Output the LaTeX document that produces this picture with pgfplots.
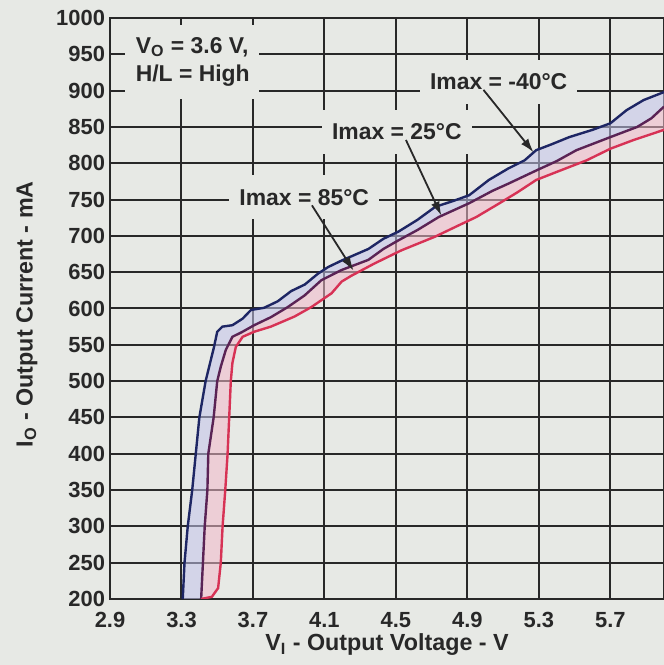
\documentclass[border=0pt]{standalone}
\usepackage{pgfplots}
\pgfplotsset{compat=1.18}
\usetikzlibrary{arrows.meta}
\usepackage{fontspec}
\setmainfont{Liberation Sans}
\definecolor{bg}{RGB}{231,233,229}
\definecolor{cblue}{RGB}{30,38,100}
\definecolor{cpurple}{RGB}{90,35,85}
\definecolor{cred}{RGB}{215,50,85}
\definecolor{flav}{RGB}{195,195,235}
\definecolor{fpink}{RGB}{242,185,202}
\definecolor{gridc}{RGB}{40,40,40}
\begin{document}
\begin{tikzpicture}[font=\fontsize{11.5}{13}\selectfont\bfseries]
\fill[bg] (-55bp,-33bp) rectangle (277bp,299.5bp);
\begin{axis}[
  at={(0,0)}, anchor=south west,
  scale only axis, width=277bp, height=290.5bp,
  xmin=2.9, xmax=6.0, ymin=200, ymax=1000,
  xtick={2.9,3.3,3.7,4.1,4.5,4.9,5.3,5.7},
  xticklabels={2.9,3.3,3.7,4.1,4.5,4.9,5.3,5.7},
  ytick={200,250,...,1000},
  /pgf/number format/1000 sep={},
  /pgf/number format/assume math mode=true,
  grid=major, major grid style={gridc, line width=1bp},
  axis line style={gridc, line width=1bp},
  major tick length=0pt,
  tick label style={font=\fontsize{11}{12}\selectfont\bfseries, text=gridc},
  yticklabel style={xshift=1bp},
  xticklabel style={yshift=-3bp},
  xlabel={V\textsubscript{I} - Output Voltage - V},
  ylabel={I\textsubscript{O} - Output Current - mA},
  xlabel style={at={(axis description cs:0.5,-0.079)}, anchor=center},
  ylabel style={at={(axis description cs:-0.15,0.49)}, anchor=center},
  label style={font=\fontsize{11.7}{13}\selectfont\bfseries, text=gridc},
]
% shaded band between -40 C and 25 C curves
\addplot[fill=flav, fill opacity=0.55, draw=none] coordinates {
(3.307,200)(3.317,250)(3.335,300)(3.36,350)(3.38,400)(3.40,450)(3.435,500)(3.482,547)(3.50,568)(3.529,575)(3.585,577)(3.642,586)(3.689,598)(3.763,601)(3.839,610)(3.914,624)(3.99,633)(4.064,648)(4.12,657)(4.196,666)(4.346,682)(4.43,696)(4.515,706)(4.62,722)(4.72,740)(4.82,748)(4.91,756)(5.02,777)(5.13,793)(5.22,804)(5.285,818)(5.37,826)(5.47,836)(5.60,846)(5.70,855)(5.79,873)(5.886,887)(6.0,898)
(6.0,878)(5.93,862)(5.85,850)(5.70,836)(5.51,818)(5.40,803)(5.285,790)(5.13,772)(5.04,762)(4.91,745)(4.74,726)(4.62,708)(4.515,694)(4.43,682)(4.346,667)(4.196,653)(4.083,639)(3.989,618)(3.895,602)(3.80,588)(3.707,577)(3.642,568)(3.585,561)(3.548,543)(3.52,520)(3.50,500)(3.48,450)(3.45,400)(3.445,350)(3.43,300)(3.42,250)(3.41,200)
} -- cycle;
% shaded band between 25 C and 85 C curves
\addplot[fill=fpink, fill opacity=0.55, draw=none] coordinates {
(3.41,200)(3.42,250)(3.43,300)(3.445,350)(3.45,400)(3.48,450)(3.50,500)(3.52,520)(3.548,543)(3.585,561)(3.642,568)(3.707,577)(3.80,588)(3.895,602)(3.989,618)(4.083,639)(4.196,653)(4.346,667)(4.43,682)(4.515,694)(4.62,708)(4.74,726)(4.91,745)(5.04,762)(5.13,772)(5.285,790)(5.40,803)(5.51,818)(5.70,836)(5.85,850)(5.93,862)(6.0,878)
(6.0,846)(5.83,832)(5.70,820)(5.567,804)(5.42,790)(5.285,777)(5.18,760)(5.08,745)(4.95,726)(4.83,712)(4.72,699)(4.53,680)(4.38,662)(4.25,645)(4.196,637)(4.14,621)(4.027,602)(3.933,589)(3.80,575)(3.707,568)(3.642,561)(3.604,547)(3.585,525)(3.576,500)(3.567,450)(3.558,400)(3.545,350)(3.53,300)(3.52,250)(3.505,215)(3.47,203)(3.41,200)
} -- cycle;

\addplot[cblue, line width=1.2bp] coordinates {
(3.307,200)(3.317,250)(3.335,300)(3.36,350)(3.38,400)(3.40,450)(3.435,500)(3.482,547)(3.50,568)(3.529,575)(3.585,577)(3.642,586)(3.689,598)(3.763,601)(3.839,610)(3.914,624)(3.99,633)(4.064,648)(4.12,657)(4.196,666)(4.346,682)(4.43,696)(4.515,706)(4.62,722)(4.72,740)(4.82,748)(4.91,756)(5.02,777)(5.13,793)(5.22,804)(5.285,818)(5.37,826)(5.47,836)(5.60,846)(5.70,855)(5.79,873)(5.886,887)(6.0,898)
};
\addplot[cpurple, line width=1.2bp] coordinates {
(3.41,200)(3.42,250)(3.43,300)(3.445,350)(3.45,400)(3.48,450)(3.50,500)(3.52,520)(3.548,543)(3.585,561)(3.642,568)(3.707,577)(3.80,588)(3.895,602)(3.989,618)(4.083,639)(4.196,653)(4.346,667)(4.43,682)(4.515,694)(4.62,708)(4.74,726)(4.91,745)(5.04,762)(5.13,772)(5.285,790)(5.40,803)(5.51,818)(5.70,836)(5.85,850)(5.93,862)(6.0,878)
};
\addplot[cred, line width=1.2bp] coordinates {
(3.41,200)(3.47,203)(3.505,215)(3.52,250)(3.53,300)(3.545,350)(3.558,400)(3.567,450)(3.576,500)(3.585,525)(3.604,547)(3.642,561)(3.707,568)(3.80,575)(3.933,589)(4.027,602)(4.14,621)(4.196,637)(4.25,645)(4.38,662)(4.53,680)(4.72,699)(4.83,712)(4.95,726)(5.08,745)(5.18,760)(5.285,777)(5.42,790)(5.567,804)(5.70,820)(5.83,832)(6.0,846)
};

\fill[bg] (axis cs:2.985,888) rectangle (axis cs:3.735,990);
\node[anchor=west, text=gridc] at (axis cs:3.005,960) {V\textsubscript{O} = 3.6 V,};
\node[anchor=west, text=gridc] at (axis cs:3.005,921) {H/L = High};

\node[fill=bg, text=gridc, inner xsep=5bp, minimum height=22bp] at (axis cs:5.075,912) {Imax = -40°C};
\node[fill=bg, text=gridc, inner xsep=5bp, minimum height=22bp] at (axis cs:4.505,843) {Imax = 25°C};
\node[fill=bg, text=gridc, inner xsep=5bp, minimum height=22bp] at (axis cs:3.987,753) {Imax = 85°C};

\draw[gridc, line width=0.9bp, -{Latex[length=7bp,width=4.5bp]}] (axis cs:4.99,901) -- (axis cs:5.27,815);
\draw[gridc, line width=0.9bp, -{Latex[length=7bp,width=4.5bp]}] (axis cs:4.556,832) -- (axis cs:4.754,728);
\draw[gridc, line width=0.9bp, -{Latex[length=7bp,width=4.5bp]}] (axis cs:4.03,742) -- (axis cs:4.263,652);
\end{axis}
\pgfresetboundingbox
\path (-55bp,-33bp) rectangle (277bp,299.5bp);
\end{tikzpicture}
\end{document}
